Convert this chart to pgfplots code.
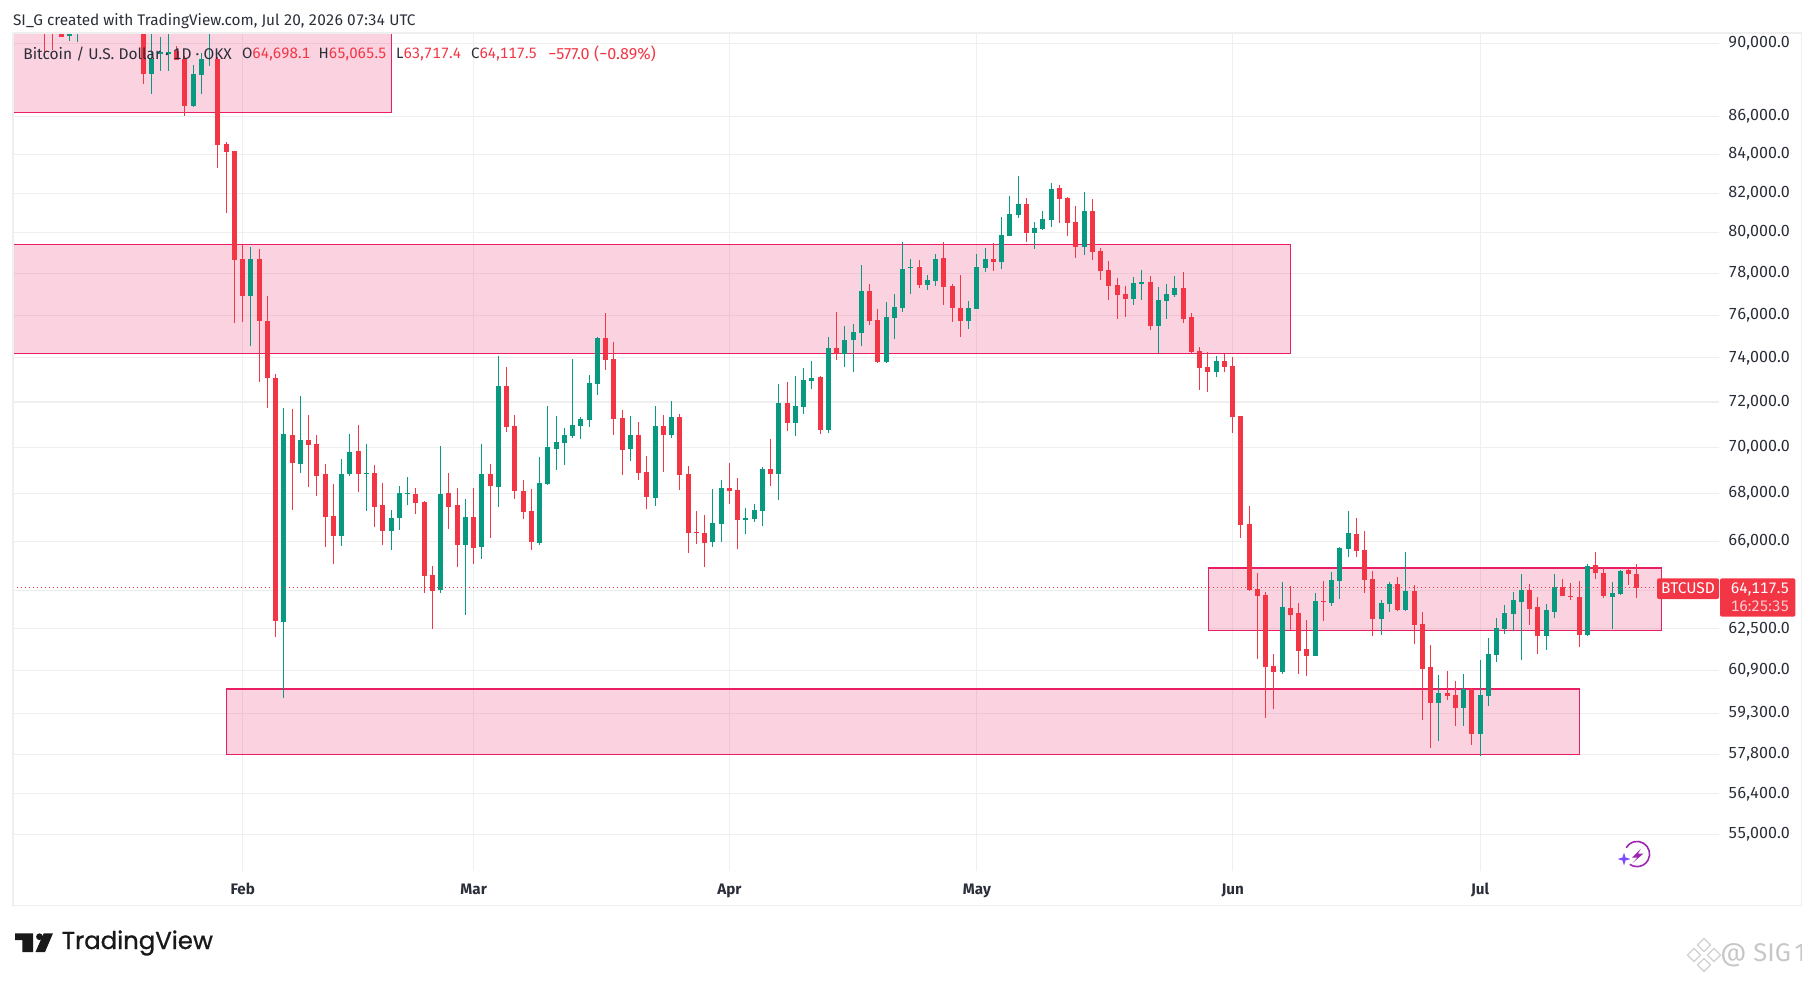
\documentclass[border=0pt]{standalone}
\usepackage{fontspec}
\usepackage{pgfplots}
\usepackage{pgfplotstable}
\pgfplotsset{compat=1.18}
\setmainfont[Numbers=Monospaced]{Fira Sans}
\newfontfamily\propfont[Numbers=Proportional]{Fira Sans}
\newfontfamily\logofont[FakeBold=0.9]{Poppins}

\definecolor{upc}{HTML}{089981}
\definecolor{downc}{HTML}{F23645}
\definecolor{zone}{HTML}{E91E63}
\definecolor{gridc}{HTML}{EFEFEF}
\definecolor{txt}{HTML}{2A2E39}
\definecolor{bolt}{HTML}{9C27B0}
\definecolor{spark}{HTML}{7C4DFF}

% day (0 = 1 Feb), open, high, low, close
\pgfplotstableread{
d o h l c
-21 90420 91200 90180 90700
-20 91500 93000 90120 92500
-11 88320 91000 87230 89150
-10 89400 90350 88490 89550
-9 89450 91000 88490 89550
-6 86590 88830 86500 88320
-5 88270 89460 87230 89150
-4 90950 92000 88780 91500
1 76930 79290 74570 78700
5 62790 71730 59880 70580
7 69250 72270 68900 70320
12 66210 69490 65820 68850
13 68820 70580 68730 69800
15 68820 70140 67270 68890
18 66440 67320 65660 66990
19 66990 68330 66490 68040
20 68000 68720 67520 68040
24 64040 70050 63920 68000
27 65870 67780 63050 67030
29 65780 70140 65290 68850
31 68290 74090 67440 72730
36 65950 69580 65870 68460
37 68420 71820 68380 70010
38 69930 71380 69020 70230
39 70190 70850 69230 70540
40 70500 73960 70410 70980
41 70940 71330 70360 71240
42 71200 73230 70890 72860
43 72820 74980 72320 74930
47 69930 71380 69410 70540
50 67830 71820 67480 70940
52 70540 72050 70410 71330
57 65990 68210 65780 66780
58 66730 68590 65990 68250
61 66900 67400 66320 66990
62 66950 67570 66820 67320
63 67270 69150 66650 69060
65 68850 72820 67740 71960
67 71070 73180 70500 71820
68 71780 73540 71470 73000
69 72950 73870 72590 73090
71 70760 74980 70630 74470
73 74190 75500 73590 74840
74 74840 75590 73360 75210
75 75170 78410 74560 77160
78 73820 76640 73770 75920
79 75880 77010 74890 76400
80 76350 79550 76160 78210
81 78260 78710 77010 78310
83 77450 77930 77210 77690
84 77640 78960 77400 78710
88 75730 76680 75360 76350
89 76300 78960 76270 78310
90 78260 79240 78070 78710
92 78560 80800 78210 79900
93 79850 81860 79830 80950
94 80900 82880 80750 81460
96 80000 80550 79200 80250
97 80200 81100 80150 80700
98 80650 82520 80300 82210
102 79300 82050 78910 81100
108 76780 77840 76490 77550
109 77500 78170 76730 77600
111 75500 77350 74230 76730
112 76680 77500 75830 77010
113 76970 77880 76870 77310
118 73360 74090 73140 73870
126 60850 64360 60770 63370
130 61470 63920 61450 63600
132 63520 64760 63400 64440
133 64400 65780 63680 65740
134 65700 67270 65370 66360
138 62900 63640 62280 63520
139 63480 64360 63170 64280
141 63250 65580 63210 64000
145 59690 60740 58290 60060
148 59500 60770 58840 60220
150 58550 61310 57750 59990
151 59950 62160 59580 61540
152 61500 62940 61230 62550
153 62500 63440 62320 63140
154 63100 63960 62430 63640
155 63560 64680 61310 64040
158 62240 63480 61690 63250
159 63170 64680 62940 64160
163 62280 65090 62240 65000
166 63760 64360 62500 63920
167 63880 64840 63850 64800
}\upcandles

\pgfplotstableread{
d o h l c
-24 93000 93500 89560 91000
-23 93000 93500 89660 91000
-22 90650 91000 90350 90400
-12 91500 92500 87780 88320
-8 89570 89880 89100 89120
-7 89150 89300 86060 86590
-3 89150 89250 83300 84510
-2 84550 84660 81000 84140
-1 84190 84190 75640 78660
0 78700 79400 75680 76900
2 78700 79190 72910 75730
3 75730 76930 71750 73090
4 73090 73270 62200 62830
6 70540 71690 67320 69290
8 70320 71420 68300 70100
9 70140 70540 67920 68770
10 68850 69280 65790 67040
11 67070 68420 65100 66210
14 69840 70980 68080 68820
16 68890 69230 66610 67440
17 67520 68460 65870 66440
21 68000 68250 67150 67610
22 67650 67700 63920 64600
23 64640 65000 62500 64000
25 68040 68890 66530 67440
26 67520 68250 64970 65870
28 67030 68250 65090 65740
30 68850 69280 66150 68330
32 72730 73590 70670 70890
33 70940 71420 67780 68120
34 68120 68590 66950 67230
35 67270 68210 65660 65990
44 74930 76100 73450 73910
45 73960 74750 70540 71240
46 71290 71640 68810 69880
48 70540 71110 68590 68890
49 68940 69620 67360 67870
51 70940 71420 68940 70540
53 71330 71470 68160 68810
54 68850 69190 65540 66360
55 66400 67270 65910 66360
56 66360 67110 64970 65950
59 68250 69320 67570 68120
60 68160 68680 65700 66900
64 69060 70360 68330 68850
66 71960 72910 70710 71070
70 73140 73180 70580 70760
72 74470 76180 73910 74190
76 77160 77500 75550 75740
77 75780 76300 73780 73820
82 78310 78660 77310 77450
85 78760 79550 76490 77350
86 77400 77500 75680 76350
87 76350 77930 74980 75730
91 78710 79500 78120 78560
95 81460 81760 79550 80000
99 82260 82420 80500 81710
100 81760 81810 79850 80500
101 80550 81350 78760 79300
103 81100 81710 78660 79050
104 79100 79240 77690 78120
105 78170 78610 76730 77400
106 77450 77790 75830 76970
107 77010 77400 75920 76780
110 77600 77880 75310 75500
114 77310 78070 75640 75830
115 75920 76110 74180 74280
116 74330 74520 72550 73540
117 73590 74270 72460 73360
119 73870 74190 73360 73590
120 73640 74040 70630 71330
121 71380 71380 66150 66690
122 66730 67480 64000 64040
123 64080 64720 61350 63800
124 63840 63960 59130 61040
125 61080 61540 59460 60850
127 63330 64200 62470 63060
128 63140 63520 60770 61650
129 61730 62860 60700 61470
131 63600 64400 62820 63560
135 66320 66990 65370 65620
136 65660 66440 63920 64440
137 64480 64800 62240 62900
140 64280 64560 63200 63250
142 64000 64240 61930 62670
143 62700 63170 59060 60970
144 61040 61890 58040 59690
146 60060 60890 59800 59950
147 59990 60510 58840 59500
149 60220 60250 58150 58550
156 64040 64280 62670 63290
157 63370 63760 61540 62240
160 64160 64480 63780 63800
161 63800 64320 63640 63760
162 63760 64400 61810 62280
164 65050 65580 64480 64720
165 64720 64970 63720 63800
168 64840 64970 64240 64680
169 64698.1 65065.5 63717.4 64117.5
}\downcandles

\begin{document}
\fontsize{7.75pt}{9pt}\selectfont
\begin{tikzpicture}
\begin{axis}[
    at={(6.5pt,-435.5pt)},anchor=south west,
    scale only axis,width=853pt,height=418.5pt,
    xmin=-27.84,xmax=178.95,ymin=53756,ymax=90560,
    ymode=log,
    axis line style={draw=none},
    major tick length=0pt,
    grid=major,
    grid style={gridc,line width=0.55pt},
    xtick={0,28,59,89,120,150},
    xticklabels={Feb,Mar,Apr,May,Jun,Jul},
    xticklabel style={anchor=base,yshift=-12pt,font=\fontsize{7.6pt}{9pt}\selectfont\bfseries,text=txt},
    ytick={55000,56400,57800,59300,60900,62500,64000,66000,68000,70000,72000,74000,76000,78000,80000,82000,84000,86000,90000},
    yticklabels={{55,000.0},{56,400.0},{57,800.0},{59,300.0},{60,900.0},{62,500.0},{},{66,000.0},{68,000.0},{70,000.0},{72,000.0},{74,000.0},{76,000.0},{78,000.0},{80,000.0},{82,000.0},{84,000.0},{86,000.0},{90,000.0}},
    yticklabel pos=right,
    yticklabel style={anchor=west,xshift=1.9pt,text=txt,font=\fontsize{8pt}{9pt}\selectfont},
    zone/.style={draw=zone,line width=0.6pt,fill=zone,fill opacity=0.2},
    wick/.style={draw=none,no markers,forget plot,
      error bars/.cd,y dir=plus,y explicit,error mark=none,
      error bar style={draw=#1,line width=0.5pt}},
    body/.style={draw=none,no markers,forget plot,
      error bars/.cd,y dir=plus,y explicit,error mark=none,
      error bar style={draw=#1,line width=2.5pt}},
  ]
  % zones
  \addplot[zone] coordinates {(-29,86236) (18.06,86236) (18.06,95000) (-29,95000)} -- cycle;
  \addplot[zone] coordinates {(-29,74220) (127,74220) (127,79430) (-29,79430)} -- cycle;
  \addplot[zone] coordinates {(-2,57800) (162,57800) (162,60200) (-2,60200)} -- cycle;
  \addplot[zone] coordinates {(117.04,62450) (172,62450) (172,64920) (117.04,64920)} -- cycle;
  % candles
  \addplot[wick=upc] table[x=d,y=l,y error expr=\thisrow{h}-\thisrow{l}] {\upcandles};
  \addplot[body=upc] table[x=d,y=o,y error expr=\thisrow{c}-\thisrow{o}] {\upcandles};
  \addplot[wick=downc] table[x=d,y=l,y error expr=\thisrow{h}-\thisrow{l}] {\downcandles};
  \addplot[body=downc] table[x=d,y=c,y error expr=\thisrow{o}-\thisrow{c}] {\downcandles};
  % last price
  \addplot[downc,line width=0.5pt,dash pattern=on 0.5pt off 1.5pt] coordinates {(-27.84,64117.5) (171.4,64117.5)};
\end{axis}

% picture coordinates below are the reference's pixels: 1 px = 0.5 pt, y downwards
\begin{scope}[x=0.5pt,y=-0.5pt]
\useasboundingbox (0,0) rectangle (1814,981);
\draw[gridc,line width=0.9pt] (12.7,33) rectangle (1801.5,905.5);

% header and legend
\node[anchor=west,inner sep=0,text=txt,font=\fontsize{7.68pt}{9pt}\selectfont] at (12.7,21) {SI\_G created with TradingView.com, Jul 20, 2026 07:34 UTC};
\node[anchor=west,inner sep=0,text=txt] at (23,54) {Bitcoin / U.S. Dollar · 1D · OKX};
\begin{scope}[every node/.style={anchor=west,inner sep=0,font=\fontsize{7.5pt}{9pt}\selectfont}]
\node at (241.7,54) {\textcolor{txt}{O}\textcolor{downc}{64,698.1}};
\node at (318.3,54) {\textcolor{txt}{H}\textcolor{downc}{65,065.5}};
\node at (395.7,54) {\textcolor{txt}{L}\textcolor{downc}{63,717.4}};
\node at (470.7,54) {\textcolor{txt}{C}\textcolor{downc}{64,117.5}};
\end{scope}
\node[anchor=west,inner sep=0,text=downc,font=\propfont\fontsize{8.1pt}{9pt}\selectfont] at (548,54) {−577.0 (−0.89\%)};

% price tags
\fill[downc,rounded corners=1pt] (1657,578.3) rectangle (1719,599);
\node[text=white,inner sep=0] at (1688,588.6) {BTCUSD};
\fill[downc,rounded corners=1pt] (1720,578.3) rectangle (1795.3,616.7);
\node[anchor=east,inner sep=0,text=white,font=\fontsize{7.6pt}{9pt}\selectfont] at (1789.5,589.5) {64,117.5};
\node[anchor=east,inner sep=0,text=white!75!downc,font=\fontsize{7.6pt}{9pt}\selectfont] at (1789.5,606) {16:25:35};

% lightning icon
\draw[bolt,line width=0.8pt] (1637,854) ++(150:6.3pt) arc[start angle=150,end angle=-125,radius=6.3pt];
\fill[bolt] (1641,848.5) -- (1632,857.5) -- (1637.5,857.5) -- (1632.5,863) -- (1643.5,853.5) -- (1638,853.5) -- cycle;
\fill[spark] (1624,852.5) -- (1625.5,857.5) -- (1630.5,859) -- (1625.5,860.5) -- (1624,865.5) -- (1622.5,860.5) -- (1617.5,859) -- (1622.5,857.5) -- cycle;

% TradingView logo
\fill[black!90] (15,933.3) -- (33,933.3) -- (33,952) -- (22.3,952) -- (22.3,940) -- (15,940) -- cycle;
\fill[black!90] (39.5,936.7) circle[radius=1.7pt];
\fill[black!90] (43.7,933.3) -- (53,933.3) -- (45,952) -- (35.5,952) -- cycle;
\node[anchor=west,inner sep=0,text=black!90,font=\logofont\fontsize{12.2pt}{14pt}\selectfont] at (61.5,943) {TradingView};

% watermark
\begin{scope}
\clip (1660,930) rectangle (1801.5,981);
\foreach \a/\b in {1704/945,1694/955,1714/955,1704/965}
  \draw[black!18,line width=0.6pt,fill=white] (\a,\b-6.5) -- (\a+6.5,\b) -- (\a,\b+6.5) -- (\a-6.5,\b) -- cycle;
\node[anchor=west,inner sep=0,text=black!22,font=\propfont\fontsize{12.8pt}{14pt}\selectfont] at (1720,955) {@ SIG\hspace{1.8pt}1};
\end{scope}
\end{scope}
\end{tikzpicture}
\end{document}
